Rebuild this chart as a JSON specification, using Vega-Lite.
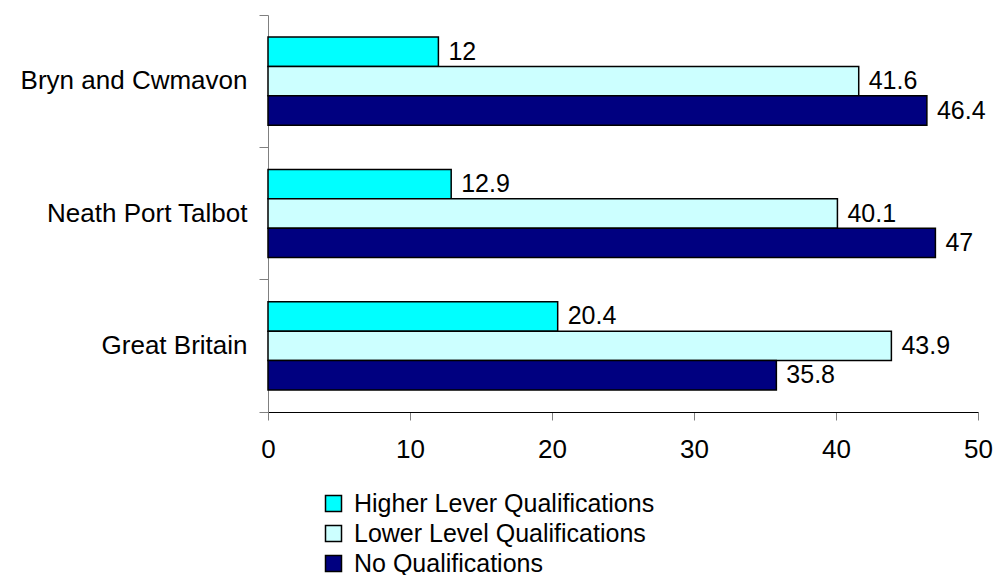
{
  "$schema": "https://vega.github.io/schema/vega-lite/v6.json",
  "autosize": "none",
  "padding": {"left": 268, "top": 15, "right": 18, "bottom": 163},
  "width": 710,
  "height": 397,
  "background": "white",
  "config": {
    "font": "Liberation Sans",
    "view": {"stroke": null},
    "axis": {"labelFont": "Liberation Sans", "labelColor": "black", "grid": false}
  },
  "data": {
    "values": [
      {"area": "Bryn and Cwmavon", "qual": "Higher Lever Qualifications", "value": 12},
      {"area": "Bryn and Cwmavon", "qual": "Lower Level Qualifications", "value": 41.6},
      {"area": "Bryn and Cwmavon", "qual": "No Qualifications", "value": 46.4},
      {"area": "Neath Port Talbot", "qual": "Higher Lever Qualifications", "value": 12.9},
      {"area": "Neath Port Talbot", "qual": "Lower Level Qualifications", "value": 40.1},
      {"area": "Neath Port Talbot", "qual": "No Qualifications", "value": 47},
      {"area": "Great Britain", "qual": "Higher Lever Qualifications", "value": 20.4},
      {"area": "Great Britain", "qual": "Lower Level Qualifications", "value": 43.9},
      {"area": "Great Britain", "qual": "No Qualifications", "value": 35.8}
    ]
  },
  "encoding": {
    "y": {
      "field": "area",
      "type": "nominal",
      "sort": ["Bryn and Cwmavon", "Neath Port Talbot", "Great Britain"],
      "scale": {"paddingInner": 0, "paddingOuter": 0},
      "axis": {
        "title": null,
        "bandPosition": 1,
        "tickExtra": true,
        "tickSize": 9,
        "tickColor": "#808080",
        "domainColor": "#808080",
        "labelFontSize": 26,
        "labelPadding": 12,
        "labelLimit": 400
      }
    },
    "yOffset": {
      "field": "qual",
      "type": "nominal",
      "sort": ["Higher Lever Qualifications", "Lower Level Qualifications", "No Qualifications"],
      "scale": {"paddingInner": 0, "paddingOuter": 0.75}
    },
    "x": {
      "field": "value",
      "type": "quantitative",
      "scale": {"domain": [0, 50], "nice": false},
      "axis": {
        "title": null,
        "values": [0, 10, 20, 30, 40, 50],
        "tickSize": 8,
        "tickColor": "#808080",
        "domainColor": "black",
        "labelFontSize": 26,
        "labelPadding": 16,
        "labelFlush": false
      }
    }
  },
  "layer": [
    {
      "mark": {"type": "bar", "stroke": "black", "strokeWidth": 1.5},
      "encoding": {
        "color": {
          "field": "qual",
          "type": "nominal",
          "sort": ["Higher Lever Qualifications", "Lower Level Qualifications", "No Qualifications"],
          "scale": {
            "domain": ["Higher Lever Qualifications", "Lower Level Qualifications", "No Qualifications"],
            "range": ["#00FFFF", "#CCFFFF", "#000080"]
          },
          "legend": {
            "title": null,
            "orient": "none",
            "legendX": 53,
            "legendY": 476,
            "padding": 0,
            "symbolType": "square",
            "symbolSize": 256,
            "symbolStrokeColor": "black",
            "symbolStrokeWidth": 1.5,
            "symbolOpacity": 1,
            "labelFont": "Liberation Sans",
            "labelFontSize": 25,
            "labelColor": "black",
            "labelOffset": 8,
            "labelLimit": 500,
            "rowPadding": 4
          }
        }
      }
    },
    {
      "mark": {"type": "text", "align": "left", "baseline": "middle", "dx": 10, "fontSize": 25, "font": "Liberation Sans", "color": "black"},
      "encoding": {
        "text": {"field": "value", "type": "quantitative"}
      }
    }
  ]
}
